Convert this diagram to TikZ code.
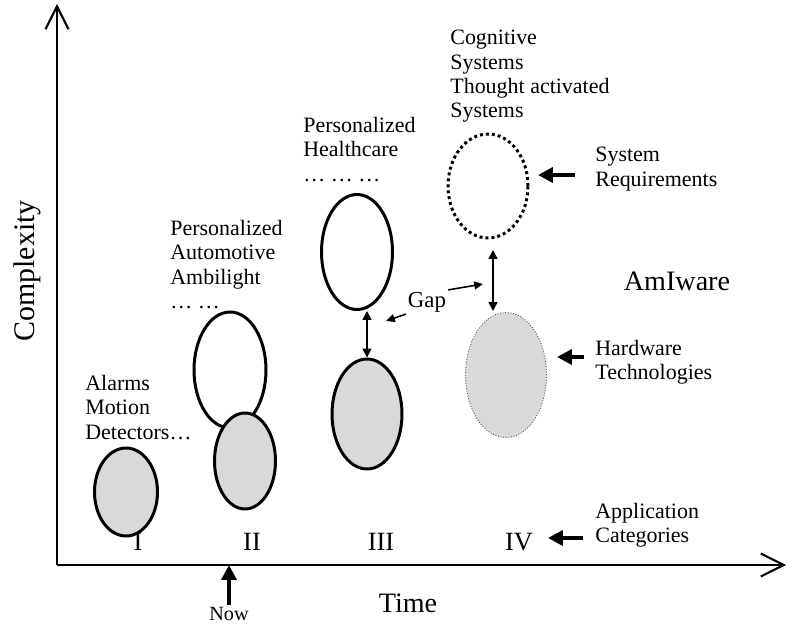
\documentclass[tikz,border=0pt]{standalone}
\usepackage{fontspec}
\setmainfont{Liberation Serif}
\usetikzlibrary{shapes.geometric,arrows.meta}
\begin{document}
\begin{tikzpicture}[x=0.02cm,y=-0.02cm,
    blob/.style={ellipse,draw,line width=1.7pt,inner sep=0pt},
    grey/.style={fill=black!15},
    lbl/.style={align=left,anchor=north west,inner sep=0pt,font=\fontsize{12.5}{13.8}\selectfont},
    num/.style={font=\fontsize{15}{18}\selectfont},
    fat/.style={line width=2.3pt,-{Triangle[length=8.5pt,width=8.5pt]}},
    dbl/.style={line width=0.9pt,{Triangle[length=5pt,width=5pt]}-{Triangle[length=5pt,width=5pt]}},
    pointer/.style={line width=0.9pt,-{Triangle[length=5pt,width=4.5pt]}},
    axis/.style={line width=1.2pt,-{Straight Barb[length=13pt,width=13pt]}}]
  \useasboundingbox (0,0) rectangle (795,625);
  % axes
  \coordinate (o) at (57,565);
  \coordinate (ytop) at (57,4);
  \coordinate (xend) at (786,565);
  \draw[axis] (o) -- (ytop);
  \draw[axis] (o) -- (xend);
  \draw
    (27,271) node[rotate=90,font=\fontsize{17}{20}\selectfont] (cplx){Complexity}
    (408,603) node[font=\fontsize{16}{19}\selectfont] (time){Time}
    (229,614) node[font=\fontsize{11.5}{14}\selectfont,inner sep=1pt] (now){Now};
  % ellipses
  \draw
    (126,492) node[blob,grey,minimum width=1.26cm,minimum height=1.76cm] (e1){}
    (230,370) node[blob,minimum width=1.44cm,minimum height=2.32cm] (e2w){}
    (245,461) node[blob,grey,minimum width=1.22cm,minimum height=1.92cm] (e2g){}
    (357,252) node[blob,minimum width=1.42cm,minimum height=2.3cm] (e3w){}
    (367,414) node[blob,grey,minimum width=1.4cm,minimum height=2.2cm] (e3g){}
    (488,186) node[blob,dash pattern=on 1.7pt off 1.7pt,minimum width=1.6cm,minimum height=2.08cm] (e4w){}
    (506,375) node[ellipse,grey,draw=black!70,densely dotted,line width=0.5pt,minimum width=1.62cm,minimum height=2.5cm] (e4g){};
  % labels
  \draw
    (85,375) node[lbl] (alarms){Alarms\\Motion\\Detectors…}
    (170,220) node[lbl] (auto){Personalized\\Automotive\\Ambilight\\… …}
    (303,117) node[lbl] (health){Personalized\\Healthcare\\… … …}
    (450,30) node[lbl] (cog){Cognitive\\Systems\\Thought activated\\Systems}
    (595,147) node[lbl] (req){System\\Requirements}
    (595,340) node[lbl] (hw){Hardware\\Technologies}
    (595,503) node[lbl] (app){Application\\Categories}
    (677,281) node[font=\fontsize{16}{19}\selectfont] (amiware){AmIware}
    (427,302) node[font=\fontsize{13}{16}\selectfont,inner sep=1pt] (gap){Gap};
  \draw
    (138,542) node[num] (n1){I}
    (252,542) node[num] (n2){II}
    (381,542) node[num] (n3){III}
    (519,542) node[num] (n4){IV};
  % arrows
  \coordinate (reqtip) at (538,175);
  \coordinate (hwtip) at (557,357);
  \coordinate (apptip) at (548,538);
  \coordinate (ivtop) at (493,250);
  \coordinate (ivbot) at (493,311);
  \coordinate (gapL) at (386,321);
  \coordinate (gapR) at (483,284);
  \draw[fat,shorten <=0.4cm] (req.west |- reqtip) -- (reqtip);
  \draw[fat,shorten <=0.22cm] (hw.west |- hwtip) -- (hwtip);
  \draw[fat,shorten <=0.24cm] (app.west |- apptip) -- (apptip);
  \draw[fat] (now.north) -- (now.north |- o);
  \draw[dbl] (e3g.north |- e3w.south) -- (e3g.north);
  \draw[dbl] (ivtop) -- (ivbot);
  \draw[pointer] (gap.south west) -- (gapL);
  \draw[pointer] (gap.north east) -- (gapR);
\end{tikzpicture}
\end{document}
